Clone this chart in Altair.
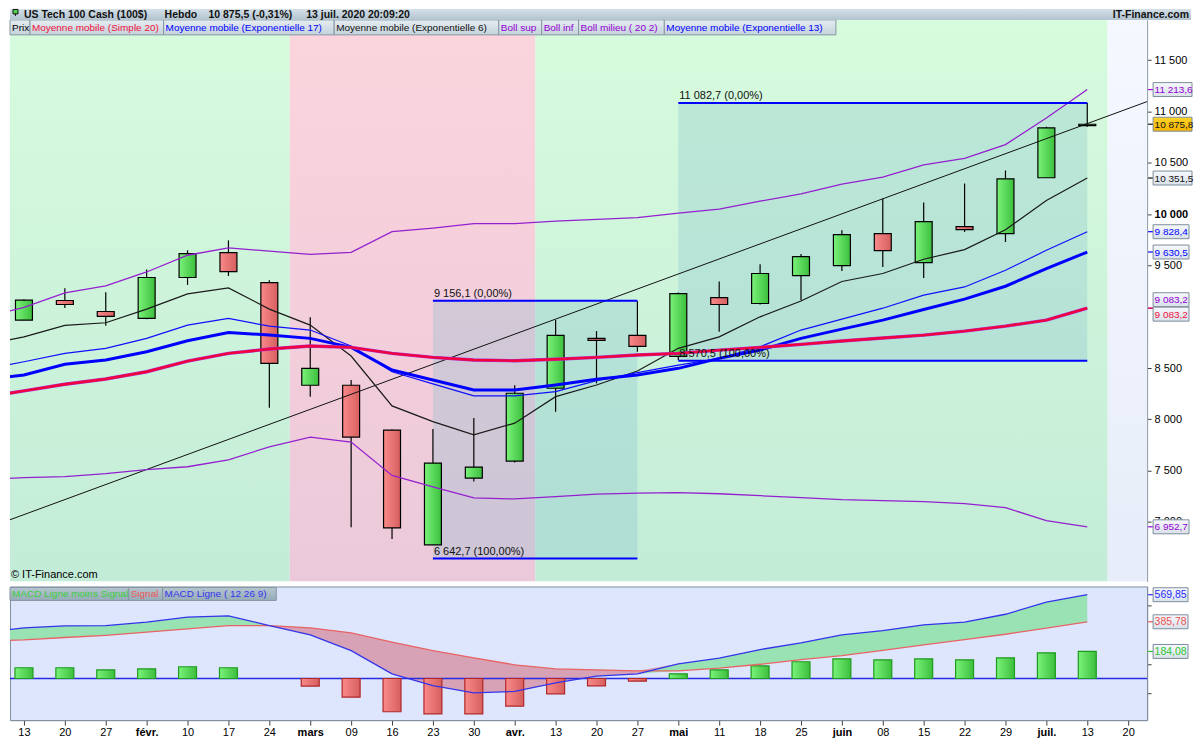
import json

import altair as alt
import pandas as pd

FONT = "Liberation Sans"

# weekly axis, 13 Jan -> 20 Jul 2020
WEEK_LABELS = ["13", "20", "27", "févr.", "10", "17", "24", "mars", "09", "16",
               "23", "30", "avr.", "13", "20", "27", "mai", "11", "18", "25",
               "juin", "08", "15", "22", "29", "juil.", "13", "20"]
MONTH_TICKS = [3, 7, 12, 16, 20, 25]

# weekly candles (index 0 = 13 Jan)
CANDLE_IDX = list(range(27))
OPEN = [8967, 9158, 9051, 8983, 9382, 9625, 9333, 8332, 8332, 7895, 6777, 7428, 7593, 8303,
        8789, 8818, 8614, 9187, 9129, 9401, 9498, 9809, 9528, 9878, 9809, 10354, 10862]
CLOSE = [9161, 9119, 9003, 9382, 9615, 9440, 8546, 8497, 7827, 6942, 7574, 7535, 8254, 8818,
         8769, 8711, 9226, 9119, 9421, 9586, 9800, 9644, 9926, 9848, 10344, 10840, 10875.8]
HIGH = [9171, 9278, 9239, 9460, 9647, 9744, 9356, 8996, 8384, 7900, 7907, 8014, 8332, 8967,
        8860, 9151, 9236, 9343, 9511, 9611, 9842, 10150, 10114, 10298, 10425, 10850, 11083]
LOW = [8962, 9086, 8911, 8975, 9310, 9397, 8114, 8221, 6948, 6835, 6777, 7395, 7580, 8075,
       8351, 8659, 8578, 8853, 9119, 9161, 9446, 9485, 9378, 9825, 9728, 10354, 10850]

# indicators (index -1 = 6 Jan, partly off the left edge)
LINE_IDX = list(range(-1, 27))
SMA20 = [8213, 8277, 8342, 8393, 8464, 8568, 8643, 8685, 8714, 8701, 8643, 8604, 8578, 8571,
         8585, 8604, 8627, 8643, 8675, 8701, 8731, 8763, 8792, 8821, 8860, 8908, 8967, 9083.2]
EMA17 = [8384, 8432, 8536, 8578, 8659, 8766, 8847, 8821, 8789, 8701, 8481, 8384, 8286, 8286,
         8335, 8390, 8432, 8497, 8594, 8675, 8789, 8879, 8967, 9071, 9171, 9297, 9469, 9630.5]
EMA13 = [8484, 8561, 8643, 8692, 8789, 8918, 8983, 8908, 8870, 8714, 8464, 8345, 8228, 8228,
         8270, 8377, 8455, 8529, 8594, 8707, 8870, 8976, 9083, 9210, 9290, 9453, 9647, 9828.4]
EMA6 = [8721, 8804, 8915, 8941, 9074, 9222, 9281, 9074, 8918, 8617, 8131, 7978, 7849, 7963,
        8221, 8335, 8471, 8692, 8804, 8999, 9153, 9343, 9421, 9560, 9654, 9848, 10133, 10351.5]
BOLL_UP = [8992, 9090, 9232, 9300, 9436, 9599, 9670, 9640, 9608, 9628, 9829, 9864, 9907, 9907,
           9932, 9948, 9965, 10010, 10049, 10126, 10198, 10292, 10360, 10480, 10544, 10677,
           10937, 11213.6]
BOLL_LOW = [7416, 7431, 7441, 7470, 7509, 7538, 7606, 7732, 7827, 7778, 7453, 7341, 7234, 7224,
            7246, 7271, 7280, 7285, 7275, 7256, 7237, 7217, 7207, 7198, 7178, 7139, 7013, 6952.7]
MACD = [310, 345, 358, 360, 383, 417, 426, 360, 297, 190, 32, -48, -97, -88, -29, 16, 32, 100,
        138, 197, 243, 297, 326, 365, 383, 437, 519, 569.85]
SIGNAL = [254, 263, 279, 294, 315, 338, 360, 360, 345, 311, 248, 190, 141, 93, 66, 59, 52, 52,
          70, 97, 129, 156, 192, 229, 265, 301, 342, 385.78]
HIST = [73, 73, 59, 66, 80, 73, 0, -52, -127, -226, -240, -240, -188, -104, -50, -18, 32, 59,
        86, 114, 134, 127, 134, 127, 141, 175, 184.08]

# drawn objects
TREND_IDX = [-1, 28]
TREND_VAL = [6925, 11175]
FIB_START = [10, 16]
FIB_END = [15, 26]
FIB_HIGH = [9156.1, 11082.7]
FIB_LOW = [6642.7, 8570.5]
ZONE_EDGES = [-1, 6.5, 12.5, 26.5, 28]
ZONE_KIND = ["up", "down", "up", "none"]
PRICE_TICKS = [7000, 7500, 8000, 8500, 9500, 10000, 10500, 11000, 11500]

# layout (the page has an 8px margin, so the drawing starts at page x=8, y=8)
W = 1140
H_HEAD = 11
H_PRICE = 563
H_MACD = 134
FULL_W = 1184


def fr_num(v, d):
    return f"{v:,.{d}f}".replace(",", " ").replace(".", ",")


def grad(c0, c1, horizontal=False):
    return alt.Gradient(
        gradient="linear",
        stops=[alt.GradientStop(color=c0, offset=0), alt.GradientStop(color=c1, offset=1)],
        x1=0, y1=0, x2=1 if horizontal else 0, y2=0 if horizontal else 1,
    )


def one(text=""):
    return alt.Chart(pd.DataFrame({"t": [text]}))


def boxes(entries, fill, y0, y1, size):
    out = []
    for text, color, a, b in entries:
        out.append(one(text).mark_rect(fill=fill, stroke="#8797a3", strokeWidth=1).encode(
            x=alt.value(a), x2=alt.value(b), y=alt.value(y0), y2=alt.value(y1)))
        out.append(one(text).mark_text(align="left", baseline="middle", font=FONT,
                                       fontSize=size, color=color).encode(
            x=alt.value(a + 2), y=alt.value((y0 + y1) / 2 + 0.5), text="t:N"))
    return out


xs = alt.Scale(domain=[-14 / 41, (W - 14) / 41], nice=False, zero=False, padding=0)
ys = alt.Scale(domain=[6420, 11892.5], nice=False, zero=False, padding=0)
yms = alt.Scale(domain=[-283, 626], nice=False, zero=False, padding=0)

price_axis = alt.Axis(
    orient="right", values=PRICE_TICKS, title=None, grid=False,
    labelExpr="replace(format(datum.value, ','), ',', ' ')",
    tickSize=4, tickColor="#404040", domainColor="#7f8f9f", labelFont=FONT,
    labelFontSize=11, labelColor="black", labelPadding=3,
    labelFontWeight={"condition": {"test": "datum.value == 10000", "value": "bold"},
                     "value": "normal"})
macd_axis = alt.Axis(
    orient="right", values=[-100, 0, 100, 300, 500], title=None, grid=False,
    labelExpr="datum.value == 0 ? '0' : ''", labelFontWeight="bold",
    tickSize=4, tickColor="#404040", domainColor="#7f8f9f", labelFont=FONT,
    labelFontSize=12, labelColor="black", labelPadding=3)
week_axis = alt.Axis(
    values=list(range(28)), title=None, grid=False,
    labelExpr=json.dumps(WEEK_LABELS, ensure_ascii=False) + "[datum.value]",
    tickSize=5, tickColor="#404040", domainColor="#7f8f9f", labelFont=FONT,
    labelFontSize=11, labelColor="black", labelPadding=1, labelOverlap=False,
    labelFontWeight={"condition": {"test": f"indexof({MONTH_TICKS}, datum.value) >= 0",
                                   "value": "bold"}, "value": "normal"})


def Xp(f):
    return alt.X(f, scale=xs, axis=None)


def Yp(f):
    return alt.Y(f, scale=ys, axis=price_axis)


def Xm(f):
    return alt.X(f, scale=xs, axis=week_axis)


def Ym(f):
    return alt.Y(f, scale=yms, axis=macd_axis)


candles = pd.DataFrame({"i": CANDLE_IDX, "o": OPEN, "c": CLOSE, "h": HIGH, "l": LOW})
lines = pd.DataFrame({"i": LINE_IDX, "sma": SMA20, "e17": EMA17, "e13": EMA13, "e6": EMA6,
                      "bu": BOLL_UP, "bl": BOLL_LOW, "m": MACD, "s": SIGNAL})
zones = pd.DataFrame({"a": ZONE_EDGES[:-1], "b": ZONE_EDGES[1:], "kind": ZONE_KIND})
trend = pd.DataFrame({"i": TREND_IDX, "v": TREND_VAL})
fib = pd.DataFrame({"a": FIB_START, "b": FIB_END, "hi": FIB_HIGH, "lo": FIB_LOW})
fib_lab = pd.DataFrame({
    "a": FIB_START + FIB_START,
    "v": FIB_HIGH + FIB_LOW,
    "t": [f"{fr_num(v, 1)} (0,00%)" for v in FIB_HIGH] + [f"{fr_num(v, 1)} (100,00%)" for v in FIB_LOW],
})
hist = pd.DataFrame({"i": CANDLE_IDX, "h": HIST})

# ---------------- price pane ----------------
layers = []
zone_fill = {"up": grad("#d7fbdd", "#c3ecd8"), "down": grad("#fbd5dd", "#ecc9da"),
             "none": grad("#f5f8ff", "#e7edf9")}
for kind, fill in zone_fill.items():
    layers.append(alt.Chart(zones).transform_filter(alt.datum.kind == kind)
                  .mark_rect(clip=True, fill=fill)
                  .encode(x=Xp("a:Q"), x2="b:Q", y=alt.value(0), y2=alt.value(H_PRICE)))

layers.append(alt.Chart(fib).mark_rect(fill="#7fb9cc", opacity=0.28).encode(
    x=Xp("a:Q"), x2="b:Q", y=Yp("lo:Q"), y2="hi:Q"))

layers.append(alt.Chart(candles).mark_rule(color="black", strokeWidth=1.2).encode(
    x=Xp("i:Q"), y=Yp("l:Q"), y2="h:Q"))
layers.append(alt.Chart(candles).transform_filter("datum.c >= datum.o")
              .mark_bar(size=17, stroke="black", strokeWidth=1.2,
                        fill=grad("#7af27a", "#3cbf3c", horizontal=True))
              .encode(x=Xp("i:Q"), y=Yp("o:Q"), y2="c:Q"))
layers.append(alt.Chart(candles).transform_filter("datum.c < datum.o")
              .mark_bar(size=17, stroke="black", strokeWidth=1.2,
                        fill=grad("#fa8a8a", "#d65f5f", horizontal=True))
              .encode(x=Xp("i:Q"), y=Yp("o:Q"), y2="c:Q"))

layers.append(alt.Chart(trend).mark_line(clip=True, color="#111111", strokeWidth=1).encode(
    x=Xp("i:Q"), y=Yp("v:Q")))
for field, color, width in [("bu", "#9420d0", 1.3), ("bl", "#9420d0", 1.3),
                            ("e6", "#1a1a1a", 1.2), ("e13", "#1010ff", 1.2),
                            ("e17", "#0000ff", 3), ("sma", "#b030d0", 3.4),
                            ("sma", "#f0003c", 2.4)]:
    layers.append(alt.Chart(lines).mark_line(clip=True, color=color, strokeWidth=width).encode(
        x=Xp("i:Q"), y=Yp(f"{field}:Q")))

layers.append(alt.Chart(fib).mark_rule(color="#0000ff", strokeWidth=2).encode(
    x=Xp("a:Q"), x2="b:Q", y=Yp("hi:Q")))
layers.append(alt.Chart(fib).mark_rule(color="#0000ff", strokeWidth=2).encode(
    x=Xp("a:Q"), x2="b:Q", y=Yp("lo:Q")))
layers.append(alt.Chart(fib_lab).mark_text(align="left", baseline="bottom", dx=1, dy=-2,
                                           font=FONT, fontSize=11, color="#111111").encode(
    x=Xp("a:Q"), y=Yp("v:Q"), text="t:N"))

PRICE_LEGEND = [("Prix", "black", 0, 20),
                ("Moyenne mobile (Simple 20)", "#f0103c", 20, 154),
                ("Moyenne mobile (Exponentielle 17)", "#0000ff", 154, 325),
                ("Moyenne mobile (Exponentielle 6)", "#111111", 325, 490),
                ("Boll sup", "#9400d3", 490, 533),
                ("Boll inf", "#9400d3", 533, 570),
                ("Boll milieu ( 20 2)", "#9400d3", 570, 656),
                ("Moyenne mobile (Exponentielle 13)", "#0000ff", 656, 828)]
layers += boxes(PRICE_LEGEND, grad("#e6edf1", "#c3d2db"), 0, 15, 10)

layers.append(one("© IT-Finance.com").mark_text(align="left", baseline="middle", font=FONT,
                                               fontSize=11, color="black").encode(
    x=alt.value(1), y=alt.value(H_PRICE - 6), text="t:N"))


def tag(value, color, x1, dy, fill, scale_y, size=10):
    d = alt.Chart(pd.DataFrame({"v": [value], "t": [fr_num(value, 2 if abs(value) < 1000 else 1)]}))
    return [
        d.mark_rule(color=color, strokeWidth=1.2).encode(
            x=alt.value(W + 1), x2=alt.value(W + 6), y=scale_y("v:Q")),
        d.mark_rect(fill=fill, stroke="#7d8d9b", strokeWidth=1, yOffset=dy - 7,
                    y2Offset=dy + 7).encode(
            x=alt.value(W + 6), x2=alt.value(x1), y=scale_y("v:Q"), y2="v:Q"),
        d.mark_text(align="left", baseline="middle", dy=dy + 0.5, font=FONT, fontSize=size,
                    color=color).encode(x=alt.value(W + 7.5), y=scale_y("v:Q"), text="t:N"),
    ]


plain = grad("#f6f8fc", "#d9e1ea")
layers += tag(BOLL_UP[-1], "#9400d3", 1185, 0, plain, Yp)
layers += tag(CLOSE[-1], "#111111", 1185, 0, grad("#ffd42a", "#f2b400"), Yp)
layers += tag(EMA6[-1], "#111111", 1185, 0, plain, Yp)
layers += tag(EMA13[-1], "#0000ff", 1182, 0, plain, Yp)
layers += tag(EMA17[-1], "#0000ff", 1182, 0, plain, Yp)
layers += tag(SMA20[-1], "#9400d3", 1182, -8.5, plain, Yp)
layers += tag(SMA20[-1], "#f0103c", 1182, 6, plain, Yp)
layers += tag(BOLL_LOW[-1], "#9400d3", 1182, 0, plain, Yp)

# header bar, drawn above the price pane
layers.append(one().mark_rect(fill=grad("#d4e0e8", "#b2c4d0")).encode(
    x=alt.value(0), x2=alt.value(FULL_W), y=alt.value(-H_HEAD), y2=alt.value(0)))
layers.append(one().mark_rule(color="#111111").encode(
    x=alt.value(5.5), y=alt.value(-H_HEAD + 0.5), y2=alt.value(-4)))
layers.append(one().mark_rect(fill="#4cd64c", stroke="#111111").encode(
    x=alt.value(3), x2=alt.value(8), y=alt.value(-H_HEAD + 0.5), y2=alt.value(-6)))
for text, x in [("US Tech 100 Cash (100$)", 14), ("Hebdo", 155),
                ("10 875,5 (-0,31%)", 199), ("13 juil. 2020 20:09:20", 297)]:
    layers.append(one(text).mark_text(align="left", baseline="middle", font=FONT, fontSize=10.5,
                                      fontWeight="bold", color="#111111").encode(
        x=alt.value(x), y=alt.value(-H_HEAD + 6.5), text="t:N"))
layers.append(one("IT-Finance.com").mark_text(align="right", baseline="middle", font=FONT,
                                              fontSize=10.5, fontWeight="bold",
                                              color="#111111").encode(
    x=alt.value(FULL_W - 2), y=alt.value(-H_HEAD + 6.5), text="t:N"))

price = alt.layer(*layers).properties(width=W, height=H_PRICE)

# ---------------- MACD pane ----------------
ml = []
ml.append(alt.Chart(lines).transform_calculate(lo="min(datum.m, datum.s)")
          .mark_area(clip=True, color="#98e2b4").encode(x=Xm("i:Q"), y=Ym("m:Q"), y2="lo:Q"))
ml.append(alt.Chart(lines).transform_calculate(hi="max(datum.m, datum.s)")
          .mark_area(clip=True, color="#d8a2b6").encode(x=Xm("i:Q"), y=Ym("m:Q"), y2="hi:Q"))
ml.append(one().mark_rule(color="#2a2ae0", strokeWidth=1.4).encode(y=alt.datum(0)))
ml.append(alt.Chart(hist).transform_filter("datum.h > 0")
          .mark_bar(size=18, stroke="#1e9a1e", strokeWidth=1.2,
                    fill=grad("#7af27a", "#3cbf3c", horizontal=True))
          .encode(x=Xm("i:Q"), y=Ym("h:Q"), y2=alt.datum(0)))
ml.append(alt.Chart(hist).transform_filter("datum.h < 0")
          .mark_bar(size=18, stroke="#b02828", strokeWidth=1.2,
                    fill=grad("#fa8a8a", "#d65f5f", horizontal=True))
          .encode(x=Xm("i:Q"), y=Ym("h:Q"), y2=alt.datum(0)))
ml.append(alt.Chart(lines).mark_line(clip=True, color="#e86464", strokeWidth=1.3).encode(
    x=Xm("i:Q"), y=Ym("s:Q")))
ml.append(alt.Chart(lines).mark_line(clip=True, color="#3434ea", strokeWidth=1.3).encode(
    x=Xm("i:Q"), y=Ym("m:Q")))

MACD_LEGEND = [("MACD Ligne moins Signal", "#3ccf3c", 0, 119),
               ("Signal", "#ee5656", 119, 153),
               ("MACD Ligne ( 12 26 9)", "#3434ee", 153, 267)]
ml += boxes(MACD_LEGEND, grad("#b4c5cf", "#96abb8"), 1, 14, 10)

ml += tag(MACD[-1], "#2a2aff", 1181, 0, plain, Ym, 10.5)
ml += tag(SIGNAL[-1], "#ee5050", 1181, 0, plain, Ym, 10.5)
ml += tag(HIST[-1], "#2ec82e", 1181, 0, plain, Ym, 10.5)

macd = alt.layer(*ml).properties(
    width=W, height=H_MACD,
    view=alt.ViewBackground(fill="#dde6fd", stroke="#7f8f9f", strokeWidth=1))

chart = alt.vconcat(price, macd, spacing=4).properties(
    padding={"left": 0, "top": 0, "right": 0, "bottom": 0}
).configure(font=FONT).configure_view(strokeWidth=0)

chart.save("out.html", embed_options={"renderer": "svg", "actions": False})
